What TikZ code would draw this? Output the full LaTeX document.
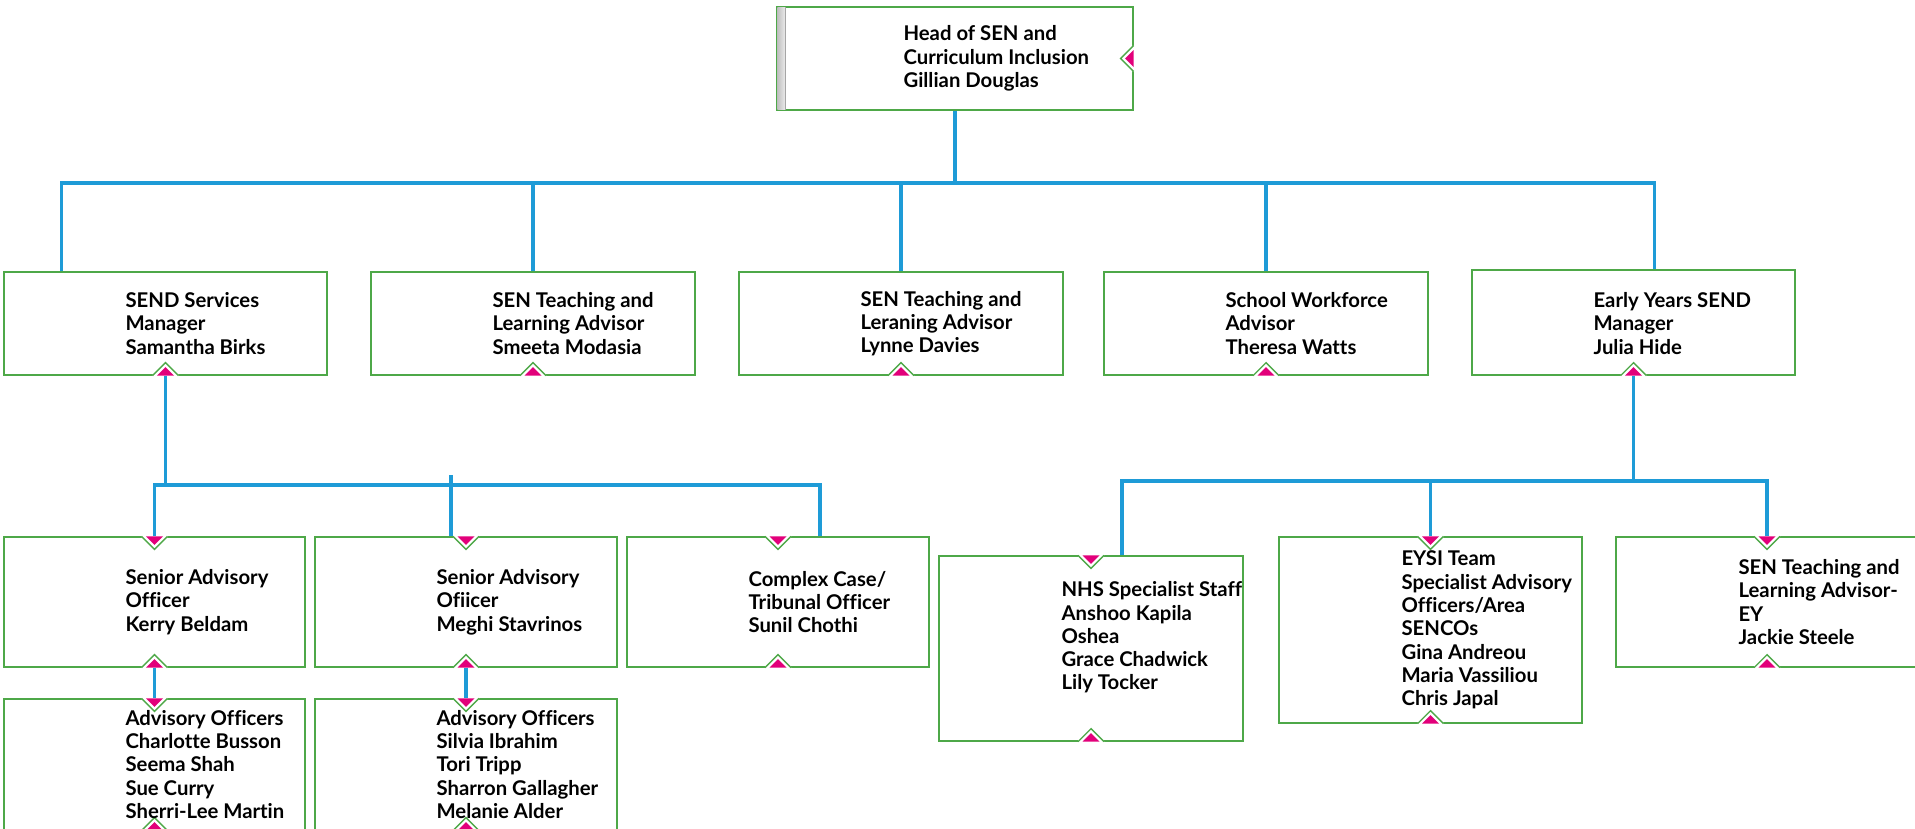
\documentclass[tikz,border=0pt]{standalone}
\usepackage{fontspec}
\setmainfont{Lato}[Ligatures=NoCommon]
\usetikzlibrary{calc}

\definecolor{boxgreen}{RGB}{78,168,72}
\definecolor{notchpink}{RGB}{226,0,122}
\definecolor{linkblue}{RGB}{30,155,215}

\tikzset{
  orgbox/.style={draw=boxgreen, line width=1.3pt, fill=white, rectangle, inner sep=0pt},
  boxtext/.style={anchor=west, align=left, inner sep=0pt, text=black,
    font=\fontsize{20.3}{23.3}\selectfont\bfseries},
  conn/.style={draw=linkblue, line width=3.5pt},
  notchline/.style={draw=boxgreen, line width=1.3pt},
}

% box: name, left, top, right, bottom (pixel units, y downwards)
\newcommand{\orgboxat}[5]{%
  \node[orgbox, minimum width={(#4-#2)*1pt}, minimum height={(#5-#3)*1pt}]
    (#1) at ({(#2+#4)/2},{(#3+#5)/2}) {};}

% notch in the top edge, pointing into the box
\newcommand{\notchtop}[1]{%
  \fill[white] ($(#1.north)+(-13,-1)$) -- ($(#1.north)+(13,-1)$) -- ($(#1.north)+(13,0.7)$)
    -- ($(#1.north)+(0,13)$) -- ($(#1.north)+(-13,0.7)$) -- cycle;
  \draw[notchline] ($(#1.north)+(-13,0)$) -- ($(#1.north)+(0,13)$) -- ($(#1.north)+(13,0)$);
  \fill[notchpink] ($(#1.north)+(-8.5,0)$) -- ($(#1.north)+(8.5,0)$) -- ($(#1.north)+(0,8.5)$) -- cycle;}

% notch in the bottom edge
\newcommand{\notchbot}[1]{%
  \fill[white] ($(#1.south)+(-13,1)$) -- ($(#1.south)+(13,1)$) -- ($(#1.south)+(13,-0.7)$)
    -- ($(#1.south)+(0,-13)$) -- ($(#1.south)+(-13,-0.7)$) -- cycle;
  \draw[notchline] ($(#1.south)+(-13,0)$) -- ($(#1.south)+(0,-13)$) -- ($(#1.south)+(13,0)$);
  \fill[notchpink] ($(#1.south)+(-8.5,0)$) -- ($(#1.south)+(8.5,0)$) -- ($(#1.south)+(0,-8.5)$) -- cycle;}

% notch in the right edge
\newcommand{\notchright}[1]{%
  \fill[white] ($(#1.east)+(1,-13)$) -- ($(#1.east)+(1,13)$) -- ($(#1.east)+(-0.7,13)$)
    -- ($(#1.east)+(-13,0)$) -- ($(#1.east)+(-0.7,-13)$) -- cycle;
  \draw[notchline] ($(#1.east)+(0,-13)$) -- ($(#1.east)+(-13,0)$) -- ($(#1.east)+(0,13)$);
  \fill[notchpink] ($(#1.east)+(0,-8.5)$) -- ($(#1.east)+(0,8.5)$) -- ($(#1.east)+(-8.5,0)$) -- cycle;}

\begin{document}
\begin{tikzpicture}[x=1pt, y=-1pt]
\useasboundingbox (0,0) rectangle (1915,828);

% ---- boxes ----
\orgboxat{head}{777}{7}{1133}{110}
\orgboxat{b1}{4}{272}{327}{375}
\orgboxat{b2}{371}{272}{695}{375}
\orgboxat{b3}{739}{272}{1063}{375}
\orgboxat{b4}{1104}{272}{1428}{375}
\orgboxat{b5}{1472}{270}{1795}{375}
\orgboxat{s1}{4}{537}{305}{667}
\orgboxat{s2}{315}{537}{617}{667}
\orgboxat{cc}{627}{537}{929}{667}
\orgboxat{a1}{4}{699}{305}{830}
\orgboxat{a2}{315}{699}{617}{830}
\orgboxat{n1}{939}{556}{1243}{741}
\orgboxat{e1}{1279}{537}{1582}{723}
\orgboxat{t1}{1616}{537}{1918}{667}

% grey strip on the left of the head box
\shade[left color=gray!50, right color=gray!15] ($(head.north west)+(1,1)$) rectangle ($(head.south west)+(9,-1)$);
\draw[gray!70, line width=0.8pt] ($(head.north west)+(9.5,1)$) -- ($(head.south west)+(9.5,-1)$);

% ---- notches ----
\notchright{head}
\foreach \n in {b1,b2,b3,b4,b5} {\notchbot{\n}}
\foreach \n in {s1,s2,cc,a1,a2,n1,e1,t1} {\notchtop{\n}\notchbot{\n}}

% ---- texts ----
\node[boxtext] (head-t) at ([xshift=127pt]head.west) {Head of SEN and\\Curriculum Inclusion\\Gillian Douglas};
\node[boxtext] (b1-t) at ([xshift=122pt]b1.west) {SEND Services\\Manager\\Samantha Birks};
\node[boxtext] (b2-t) at ([xshift=122pt]b2.west) {SEN Teaching and\\Learning Advisor\\Smeeta Modasia};
\node[boxtext] (b3-t) at ([xshift=122pt]b3.west) {SEN Teaching and\\Leraning Advisor\\Lynne Davies};
\node[boxtext] (b4-t) at ([xshift=122pt]b4.west) {School Workforce\\Advisor\\Theresa Watts};
\node[boxtext] (b5-t) at ([xshift=122pt,yshift=-1pt]b5.west) {Early Years SEND\\Manager\\Julia Hide};
\node[boxtext] (s1-t) at ([xshift=122pt]s1.west) {Senior Advisory\\Officer\\Kerry Beldam};
\node[boxtext] (s2-t) at ([xshift=122pt]s2.west) {Senior Advisory\\Ofiicer\\Meghi Stavrinos};
\node[boxtext] (cc-t) at ([xshift=122pt]cc.west) {Complex Case/\\Tribunal Officer\\Sunil Chothi};
\node[boxtext] (a1-t) at ([xshift=122pt]a1.west) {Advisory Officers\\Charlotte Busson\\Seema Shah\\Sue Curry\\Sherri-Lee Martin};
\node[boxtext] (a2-t) at ([xshift=122pt]a2.west) {Advisory Officers\\Silvia Ibrahim\\Tori Tripp\\Sharron Gallagher\\Melanie Alder};
\node[boxtext] (n1-t) at ([xshift=123pt,yshift=11pt]n1.west) {NHS Specialist Staff\\Anshoo Kapila\\Oshea\\Grace Chadwick\\Lily Tocker};
\node[boxtext] (e1-t) at ([xshift=123pt]e1.west) {EYSI Team\\Specialist Advisory\\Officers/Area\\SENCOs\\Gina Andreou\\Maria Vassiliou\\Chris Japal};
\node[boxtext] (t1-t) at ([xshift=123pt]t1.west) {SEN Teaching and\\Learning Advisor-\\EY\\Jackie Steele};

% ---- connectors ----
\coordinate (topbus) at (955,183);
\draw[conn] (head.south) -- (topbus);
\draw[conn] ([xshift=-104pt]b1.north) |- (topbus);
\draw[conn] ([xshift=21pt]b5.north) |- (topbus);
\draw[conn] (b2.north) -- (b2.north |- topbus);
\draw[conn] (b3.north) -- (b3.north |- topbus);
\draw[conn] (b4.north) -- (b4.north |- topbus);

\coordinate (lbus) at (165.5,485);
\draw[conn] (b1.south) -- (lbus);
\draw[conn] (s1.north) |- (lbus);
\draw[conn] ([xshift=42pt]cc.north) |- (lbus);
\draw[conn] ([xshift=-15pt]s2.north) -- ++(0,-61);
\draw[conn] (s1.south) -- (a1.north);
\draw[conn] (s2.south) -- (a2.north);

\coordinate (rbus) at (1633.5,481);
\draw[conn] (b5.south) -- (rbus);
\draw[conn] ([xshift=31pt]n1.north) |- (rbus);
\draw[conn] (e1.north) |- (rbus);
\draw[conn] (t1.north) |- (rbus);
\end{tikzpicture}
\end{document}
